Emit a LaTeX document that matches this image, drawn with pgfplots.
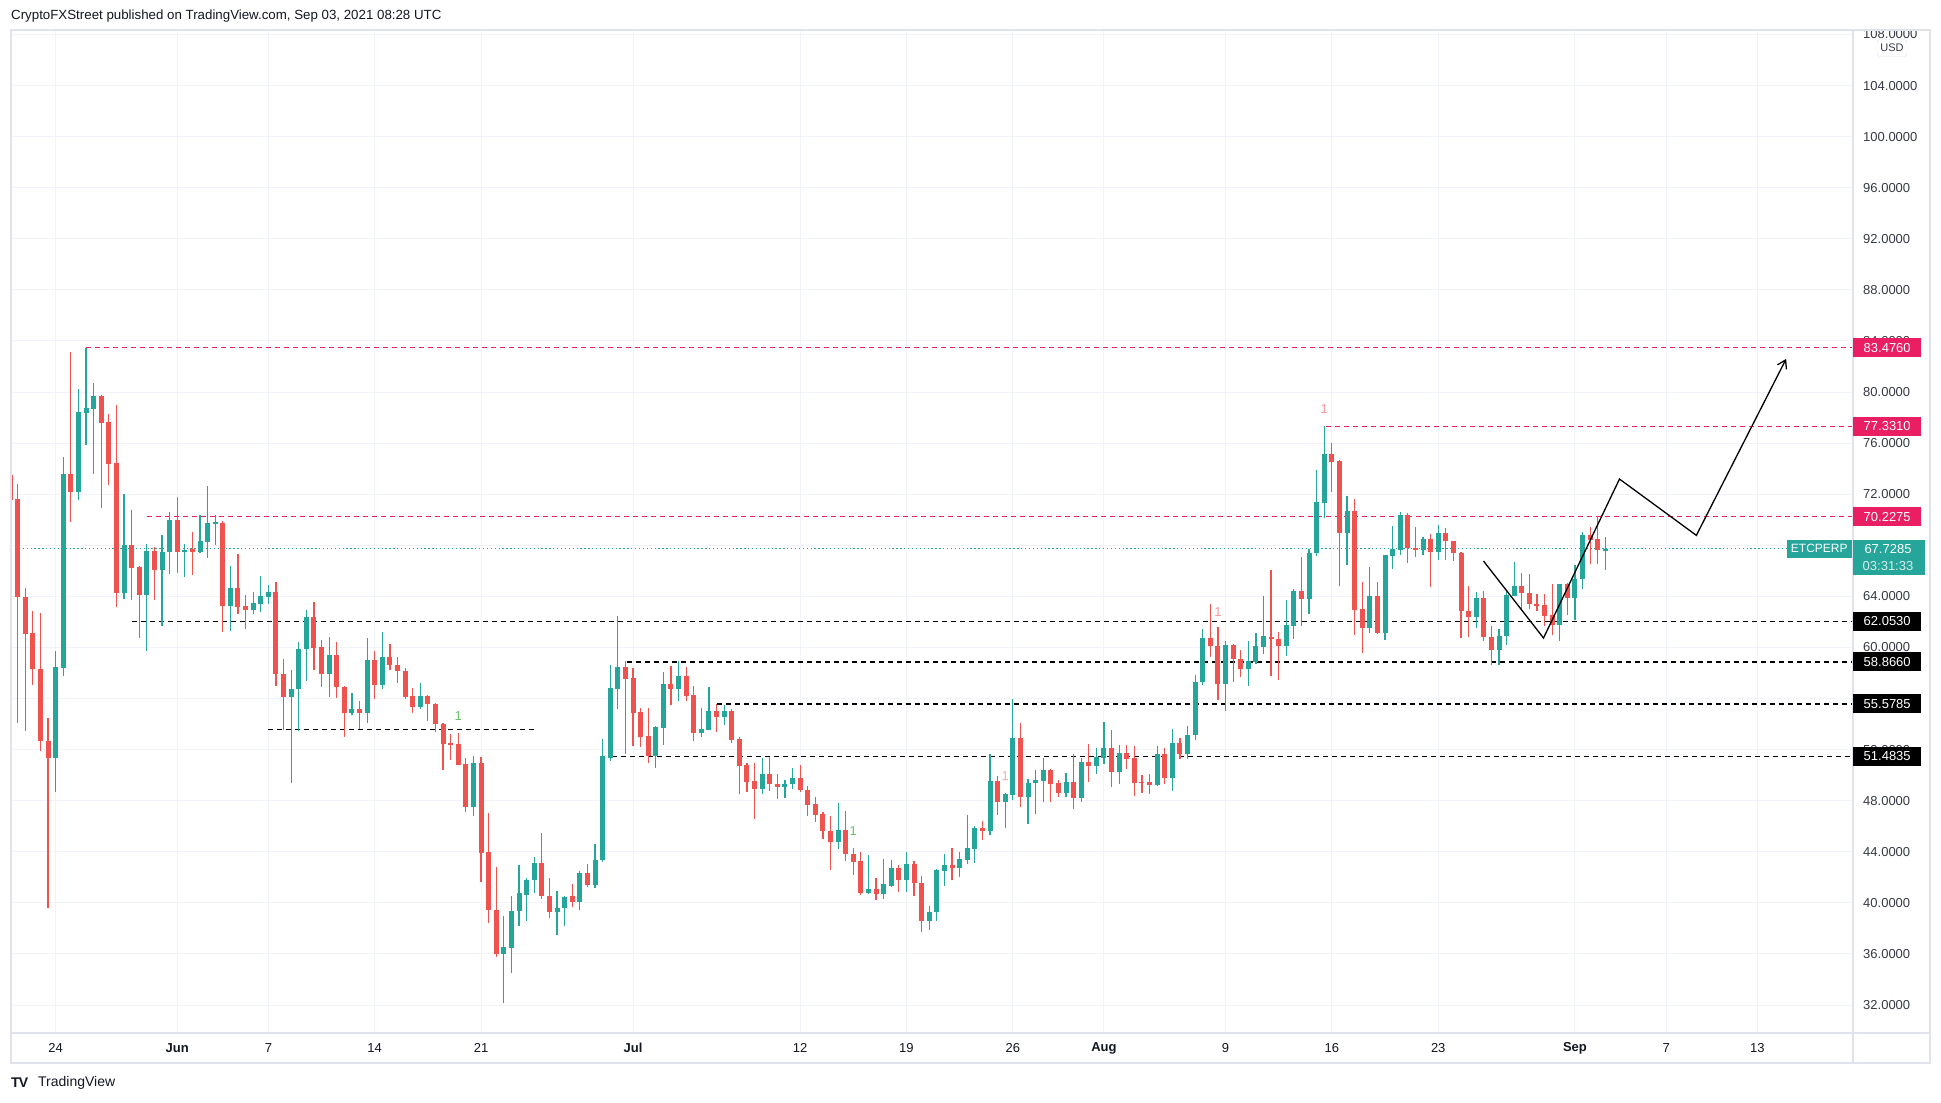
\documentclass[border=0pt]{standalone}
\usepackage{fontspec}
\setmainfont{Liberation Sans}
\usepackage{pgfplots}
\pgfplotsset{compat=1.18}
\usepackage{pgfplotstable}
\usetikzlibrary{arrows.meta}
\pgfdeclarelayer{background}
\pgfsetlayers{background,main}

\definecolor{tvgreen}{HTML}{26A69A}
\definecolor{tvred}{HTML}{EF5350}
\definecolor{tvpink}{HTML}{E91E63}
\definecolor{gridc}{HTML}{F0F3FA}
\definecolor{framec}{HTML}{E0E3EB}
\definecolor{txt}{HTML}{131722}
\definecolor{scaletxt}{HTML}{363A45}

% 12h candles, t = half-days from May 24 00:00
\pgfplotstableread{
t o h l c
0 51.38 59.76 48.68 58.44
1 58.38 74.88 57.77 73.62
3 72.15 80.23 71.51 78.43
4 78.37 83.476 75.86 78.73
5 78.67 80.69 73.56 79.68
9 64.26 72.03 63.83 68.02
12 64.11 68.12 59.70 67.56
14 66.10 68.82 61.66 67.47
15 67.44 70.62 65.79 70.01
17 67.50 68.12 65.49 67.66
19 67.47 70.35 67.41 68.36
20 68.27 72.67 67.01 69.77
21 69.71 70.35 68.05 69.77
23 63.25 66.37 61.26 64.66
26 62.91 64.38 62.61 63.46
27 63.43 65.61 62.79 64.02
28 63.99 64.93 63.40 64.35
31 56.16 58.26 49.42 56.78
32 56.72 60.40 53.49 59.92
33 59.87 62.90 57.34 62.37
36 57.90 60.79 56.10 59.44
39 54.84 56.47 54.75 55.20
41 54.84 60.71 54.05 59.05
43 57.03 61.18 56.72 59.28
48 55.31 57.25 55.15 56.21
55 47.51 51.49 46.80 50.96
59 35.96 38.99 32.17 36.55
60 36.49 40.57 34.47 39.39
61 39.33 42.93 38.21 40.74
62 40.65 41.94 38.60 41.83
63 41.77 43.57 40.79 43.15
66 39.25 40.96 37.45 39.61
67 39.58 40.57 38.15 40.48
69 40.05 42.47 39.42 42.34
71 41.38 44.63 41.14 43.38
72 43.33 52.83 43.17 51.51
73 51.38 58.62 51.14 56.82
74 56.77 62.44 55.20 58.46
79 51.53 53.85 50.60 53.77
80 53.72 58.07 52.39 57.13
82 56.77 58.93 55.83 57.76
85 53.33 55.26 53.02 53.62
86 53.56 56.90 53.56 55.02
88 54.58 55.46 53.95 55.02
93 48.88 51.35 48.49 50.10
96 49.11 49.63 48.25 49.32
97 49.27 50.57 48.95 49.79
103 44.73 47.83 44.19 45.72
107 40.76 43.71 40.68 41.12
109 40.68 43.40 40.34 41.44
110 41.36 43.32 41.28 42.77
112 41.83 43.95 40.89 43.01
115 38.56 39.79 37.86 39.32
116 39.27 42.69 38.56 42.61
117 42.53 43.79 41.36 42.93
119 42.77 43.95 41.99 43.40
120 43.32 46.85 43.01 44.26
121 44.18 45.99 43.09 45.83
123 45.59 51.63 45.28 49.52
125 47.89 48.57 45.83 48.50
126 48.44 55.95 48.05 52.89
128 48.29 49.67 46.14 49.36
129 49.36 50.38 46.93 49.59
130 49.51 51.32 47.87 50.38
133 48.57 50.14 48.26 49.44
135 48.18 51.32 47.87 51.00
137 50.69 52.10 50.07 51.40
138 51.32 54.14 50.85 52.10
140 50.22 52.34 49.28 51.71
145 49.26 52.27 49.18 51.67
147 49.81 53.63 48.79 52.53
149 51.62 53.87 51.30 53.16
150 53.11 57.88 52.72 57.33
151 57.27 61.41 57.04 60.78
154 57.12 60.47 55.00 60.23
157 58.30 60.47 56.96 58.97
158 58.84 61.10 58.69 60.08
159 60.00 64.00 59.52 60.86
162 60.08 63.69 59.37 61.73
163 61.65 64.55 60.70 64.39
165 63.77 67.75 62.59 67.43
166 67.38 73.90 67.15 71.39
167 71.31 77.331 70.13 75.16
170 68.95 71.86 66.44 70.68
173 61.49 66.28 61.17 64.00
175 61.10 67.25 60.55 67.22
176 67.15 69.50 66.12 67.69
177 67.62 70.60 67.22 70.37
180 67.60 68.69 67.21 68.46
182 67.45 69.63 66.82 68.93
187 62.38 64.33 61.52 63.86
190 59.80 61.44 58.63 60.89
191 60.89 64.33 60.19 64.09
192 64.01 66.67 64.01 64.79
198 61.75 65.00 60.48 64.95
200 63.86 66.43 62.14 65.34
201 65.34 69.08 64.56 68.77
204 67.60 68.62 66.04 67.7285
}\upcandles

\pgfplotstableread{
t o h l c
-6 73.53 78.06 68.82 71.57
-5 71.66 72.77 54.10 63.95
-4 63.99 64.66 53.43 61.05
-3 61.11 62.85 57.10 58.32
-2 58.35 62.70 51.90 52.66
-1 52.69 54.50 39.60 51.38
2 73.62 83.14 69.86 72.15
6 79.68 79.74 70.96 77.57
7 77.63 78.27 72.71 74.36
8 74.42 78.98 63.19 64.26
10 68.02 70.78 63.74 66.25
11 66.31 66.40 60.71 64.11
13 67.56 67.87 63.74 66.10
16 70.01 71.82 65.82 67.50
18 67.72 69.06 65.64 67.50
22 69.77 69.90 61.20 63.25
24 64.66 67.32 62.61 63.16
25 63.25 64.11 61.45 62.91
29 64.35 65.11 57.01 57.90
30 57.96 59.13 53.55 56.10
34 62.37 63.54 58.21 59.95
35 60.00 60.62 56.94 57.90
37 59.44 60.40 56.02 56.89
38 56.92 57.00 52.96 54.84
40 55.20 55.82 53.63 54.84
42 59.05 59.75 55.99 57.03
44 59.28 60.31 58.21 58.60
45 58.66 59.28 57.20 58.12
46 58.18 58.43 55.93 56.16
47 56.21 56.86 54.84 55.31
49 56.21 56.30 54.28 55.54
50 55.60 55.65 53.35 53.97
51 54.02 54.11 50.43 52.48
52 52.53 53.23 51.21 52.40
53 52.45 53.32 50.80 50.82
54 50.88 51.35 47.11 47.51
56 50.96 51.44 41.61 43.91
57 43.97 47.03 38.43 39.42
58 39.47 42.79 35.79 35.96
64 43.15 45.51 40.29 40.51
65 40.57 41.97 38.83 39.25
68 40.57 41.51 39.66 40.05
70 42.34 43.07 41.22 41.38
75 58.46 58.98 51.66 57.55
76 57.60 58.36 52.29 54.89
77 54.94 55.26 52.24 53.02
78 53.07 55.26 50.96 51.53
81 57.13 58.54 55.52 56.77
83 57.76 58.46 55.83 56.22
84 56.27 56.98 52.70 53.33
87 55.02 55.54 53.41 54.58
89 55.02 55.18 52.55 52.78
90 52.83 52.99 48.49 50.75
91 50.80 50.96 48.72 49.50
92 49.55 50.96 46.53 48.88
94 50.10 51.43 48.80 49.27
95 49.32 50.10 48.17 49.11
98 49.79 50.80 48.72 48.80
99 48.85 49.16 46.77 47.70
100 47.76 48.30 46.35 46.92
101 46.98 47.13 45.02 45.59
102 45.65 46.82 42.55 44.73
104 45.72 47.21 43.30 43.80
105 43.79 44.26 42.22 43.19
106 43.24 43.95 40.60 40.76
108 41.12 41.91 40.21 40.68
111 42.77 42.93 40.89 41.83
113 43.01 43.24 40.50 41.54
114 41.59 42.14 37.70 38.56
118 42.93 44.26 41.83 42.77
122 45.83 46.38 44.89 45.59
124 49.52 49.91 46.85 47.89
127 52.89 54.07 47.50 48.29
131 50.38 50.46 47.87 49.28
132 49.36 49.59 48.26 48.57
134 49.44 51.63 47.32 48.18
136 51.00 52.42 49.44 50.69
139 52.10 53.51 49.05 50.22
141 51.71 52.38 50.49 51.27
142 51.36 52.27 48.40 49.42
143 49.47 50.02 48.63 49.39
144 49.47 50.10 48.55 49.26
146 51.67 52.14 49.34 49.81
148 52.53 52.93 51.30 51.62
152 60.78 63.37 59.24 60.10
153 60.15 61.57 55.86 57.12
155 60.23 60.31 57.27 59.08
156 59.13 59.84 57.67 58.30
160 60.86 66.05 57.80 60.63
161 60.70 61.25 57.48 60.08
164 64.39 67.07 61.65 63.77
168 75.16 76.02 72.17 74.53
169 74.61 74.69 64.79 68.95
171 70.68 71.62 60.94 62.90
172 62.98 65.10 59.53 61.49
174 64.00 65.10 61.05 61.10
178 70.37 70.52 66.59 67.77
179 67.76 69.42 67.06 67.60
181 68.46 68.85 64.72 67.45
183 68.93 69.32 66.82 68.30
184 68.30 68.35 66.74 67.37
185 67.37 67.45 60.74 62.84
186 62.84 64.79 60.81 62.38
188 63.86 64.40 60.50 60.81
189 60.81 61.67 58.63 59.80
193 64.79 65.81 62.84 64.25
194 64.25 65.73 62.98 63.39
195 63.39 64.17 62.84 63.26
196 63.31 64.17 61.67 62.50
197 62.53 64.95 60.97 61.75
199 64.95 65.03 62.53 63.86
202 68.77 69.40 66.51 68.38
203 68.46 70.33 66.51 67.60
}\downcandles

\newcommand{\scalefont}{\fontsize{13}{15}\selectfont}

\begin{document}
\begin{tikzpicture}[x=1pt,y=1pt]
\begin{axis}[
    width=1842pt, height=1003pt, scale only axis,
    xmin=-2.94, xmax=118.3, ymin=29.81, ymax=108.35,
    axis line style={draw=none},
    grid=major, major grid style={draw=gridc, line width=1pt},
    major tick length=0pt, tick style={draw=none},
    xtick={0,8,14,21,28,38,49,56,63,69,77,84,91,100,106,112},
    xticklabels={24,\textbf{Jun},7,14,21,\textbf{Jul},12,19,26,\textbf{Aug},9,16,23,\textbf{Sep},7,13},
    ytick={32,36,...,108},
    yticklabel pos=right,
    /pgf/number format/assume math mode=true,
    yticklabel style={anchor=west, inner sep=0pt, xshift=10pt, font=\scalefont, text=scaletxt,
        /pgf/number format/.cd, fixed, fixed zerofill, precision=4, 1000 sep={}},
    xticklabel style={anchor=center, inner sep=0pt, yshift=-15pt, font=\scalefont, text=txt},
]

% level lines
\addplot[forget plot, tvgreen, line width=1.2pt, dash pattern=on 1.3pt off 2.6pt] coordinates {(-2.94,67.7285) (113.9,67.7285)};
\addplot[forget plot, tvpink, line width=1.2pt, dash pattern=on 5pt off 4pt] coordinates {(2.0,83.476) (118.3,83.476)};
\addplot[forget plot, tvpink, line width=1.2pt, dash pattern=on 5pt off 4pt] coordinates {(83.6,77.331) (118.3,77.331)};
\addplot[forget plot, tvpink, line width=1.2pt, dash pattern=on 5pt off 4pt] coordinates {(6.0,70.2275) (118.3,70.2275)};
\addplot[forget plot, black, line width=1.3pt, dash pattern=on 5pt off 4pt] coordinates {(5.0,62.053) (118.3,62.053)};
\addplot[forget plot, black, line width=1.3pt, dash pattern=on 5pt off 4pt] coordinates {(37.6,58.866) (118.3,58.866)};
\addplot[forget plot, black, line width=1.3pt, dash pattern=on 5pt off 4pt] coordinates {(43.5,55.5785) (118.3,55.5785)};
\addplot[forget plot, black, line width=1.3pt, dash pattern=on 5pt off 4pt] coordinates {(36.6,51.4835) (118.3,51.4835)};
\addplot[forget plot, black, line width=1.3pt, dash pattern=on 5pt off 4pt] coordinates {(14.0,53.56) (31.5,53.56)};

% wicks
\addplot[forget plot, draw=none, mark=none,
    error bars/.cd, y dir=both, y explicit, error mark=none,
    error bar style={draw=tvgreen, line width=1.2pt}]
    table[x expr=\thisrow{t}/2, y expr=(\thisrow{h}+\thisrow{l})/2, y error expr=(\thisrow{h}-\thisrow{l})/2] {\upcandles};
\addplot[forget plot, draw=none, mark=none,
    error bars/.cd, y dir=both, y explicit, error mark=none,
    error bar style={draw=tvred, line width=1.2pt}]
    table[x expr=\thisrow{t}/2, y expr=(\thisrow{h}+\thisrow{l})/2, y error expr=(\thisrow{h}-\thisrow{l})/2] {\downcandles};
% bodies
\addplot[forget plot, draw=none, mark=none,
    error bars/.cd, y dir=both, y explicit, error mark=none,
    error bar style={draw=tvgreen, line width=5pt}]
    table[x expr=\thisrow{t}/2, y expr=(\thisrow{o}+\thisrow{c})/2, y error expr={max(abs(\thisrow{c}-\thisrow{o})/2,0.05)}] {\upcandles};
\addplot[forget plot, draw=none, mark=none,
    error bars/.cd, y dir=both, y explicit, error mark=none,
    error bar style={draw=tvred, line width=5pt}]
    table[x expr=\thisrow{t}/2, y expr=(\thisrow{o}+\thisrow{c})/2, y error expr={max(abs(\thisrow{c}-\thisrow{o})/2,0.05)}] {\downcandles};

% projected path
\addplot[forget plot, black, line width=1.3pt, -{Straight Barb[length=8pt,width=10pt]}]
    coordinates {(93.98,66.77) (97.93,60.74) (102.93,73.19) (107.99,68.78) (113.9,82.6)};

% TD sequential counts
\node[text=tvred, opacity=0.6, font=\fontsize{13}{14}\selectfont] at (axis cs:83.5,78.7) {1};
\node[text=tvred, opacity=0.6, font=\fontsize{13}{14}\selectfont] at (axis cs:76.5,62.8) {1};
\node[text=tvred, opacity=0.45, font=\fontsize{13}{14}\selectfont] at (axis cs:62.5,49.9) {1};
\node[text=green!60!black, opacity=0.6, font=\fontsize{13}{14}\selectfont] at (axis cs:26.5,54.6) {1};
\node[text=green!60!black, opacity=0.6, font=\fontsize{13}{14}\selectfont] at (axis cs:52.5,45.6) {1};

\coordinate (SW) at (rel axis cs:0,0);
\coordinate (p83) at (axis cs:118.3,83.476);
\coordinate (p77) at (axis cs:118.3,77.331);
\coordinate (p70) at (axis cs:118.3,70.2275);
\coordinate (p67) at (axis cs:118.3,67.7285);
\coordinate (p62) at (axis cs:118.3,62.053);
\coordinate (p58) at (axis cs:118.3,58.866);
\coordinate (p55) at (axis cs:118.3,55.5785);
\coordinate (p51) at (axis cs:118.3,51.4835);
\end{axis}

\pgfresetboundingbox
\begin{scope}[shift={(SW)}, xshift=-11pt, yshift=-70pt]
\path[use as bounding box] (0,0) rectangle (1941,1103);
\begin{pgfonlayer}{background}
\fill[white] (0,0) rectangle (1941,1103);
\end{pgfonlayer}

% frame
\draw[framec, line width=1.5pt] (11,40) rectangle (1930,1073);
\draw[framec, line width=1.2pt] (1853,40) -- (1853,1073);
\draw[framec, line width=1.2pt] (11,70) -- (1930,70);

% price labels
\tikzset{plabel/.style={anchor=west, inner sep=0pt, minimum width=68pt, minimum height=19pt, text=white, font=\scalefont}}
\node[plabel, fill=tvpink] at (p83) {83.4760};
\node[plabel, fill=tvpink] at (p77) {77.3310};
\node[plabel, fill=tvpink] at (p70) {70.2275};
\node[plabel, fill=black] at (p62) {62.0530};
\node[plabel, fill=black] at (p58) {58.8660};
\node[plabel, fill=black] at (p55) {55.5785};
\node[plabel, fill=black] at (p51) {51.4835};
\node[anchor=east, fill=tvgreen, inner sep=0pt, minimum width=65pt, minimum height=18pt, text=white, font=\fontsize{12}{13}\selectfont] at ([xshift=-1pt]p67) {ETCPERP};
\fill[tvgreen] ([yshift=9pt]p67) rectangle ([xshift=72pt,yshift=-26pt]p67);
\node[text=white, font=\scalefont] at ([xshift=35pt]p67) {67.7285};
\node[text=white, opacity=0.8, font=\scalefont] at ([xshift=35pt,yshift=-17pt]p67) {03:31:33};

% USD badge
\node[draw=framec, fill=white, rounded corners=3pt, text=scaletxt, inner sep=2pt, minimum width=30pt, minimum height=17pt, font=\fontsize{11}{12}\selectfont] at (1892,1055) {USD};

% header and footer
\node[anchor=west, inner sep=0pt, text=txt, font=\fontsize{13.3}{15}\selectfont] at (11,1087) {CryptoFXStreet published on TradingView.com, Sep 03, 2021 08:28 UTC};
\node[anchor=west, inner sep=0pt, text=txt, font=\fontsize{14}{15}\bfseries] at (11,20) {T\kern-1pt V};
\node[anchor=west, inner sep=0pt, text=txt, font=\fontsize{14}{15}\selectfont] at (38,20) {TradingView};
\end{scope}
\end{tikzpicture}
\end{document}
